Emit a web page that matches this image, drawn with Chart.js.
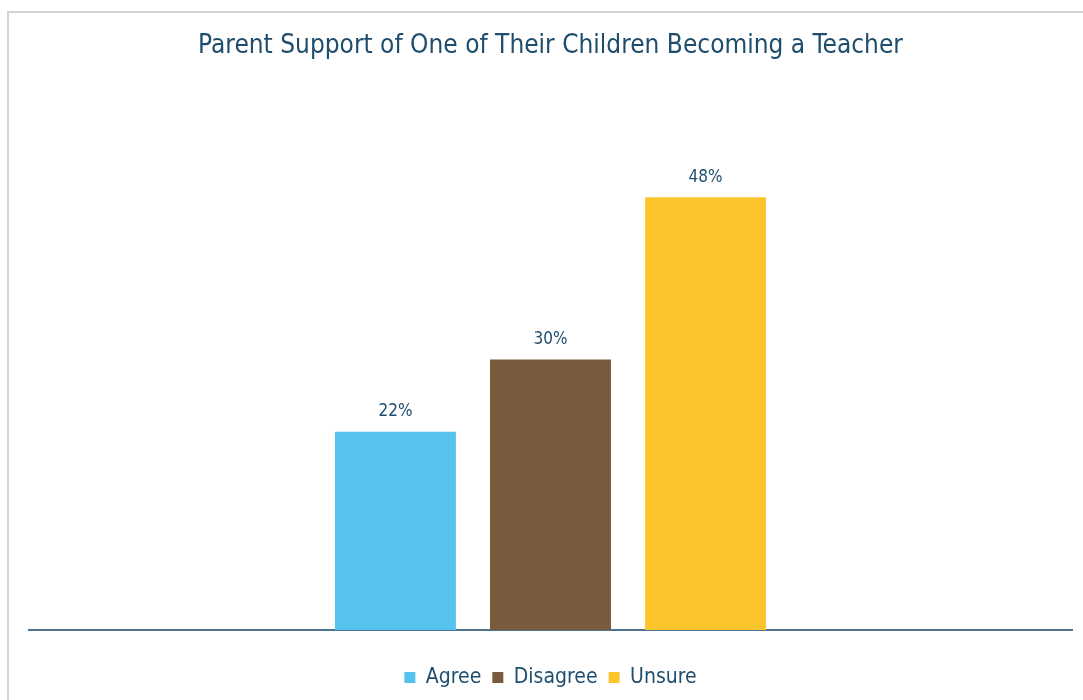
<!DOCTYPE html>
<html>
<head>
<meta charset="utf-8">
<title>Parent Support</title>
<script src="https://cdn.jsdelivr.net/npm/chart.js@4.4.1/dist/chart.umd.min.js"></script>
<style>
  html, body { margin: 0; padding: 0; background: #fff; overflow: hidden; }
  #frame {
    position: absolute; left: 7px; top: 11px; width: 1100px; height: 720px;
    border: 2px solid #d4d4d4; box-sizing: border-box;
  }
  #wrap { position: absolute; left: 0; top: 0; width: 1083px; height: 700px; }
</style>
</head>
<body>
<div id="frame"></div>
<div id="wrap"><canvas id="supportChart" width="1083" height="700"></canvas></div>
<script>
const FONT = "'Liberation Sans Narrow', 'DejaVu Sans Condensed', 'Roboto', sans-serif";
const TEXT = "#1f4d6d";

const title = "Parent Support of One of Their Children Becoming a Teacher";
const categories = [""];
const answers = ["Agree", "Disagree", "Unsure"];
const shares = [22, 30, 48];
const colors = ["#56c3ef", "#7a5a3c", "#fdc52c"];

// write each bar's value just above it
const valueLabels = {
  id: "valueLabels",
  afterDatasetsDraw(chart) {
    const ctx = chart.ctx;
    ctx.save();
    ctx.font = `17px ${FONT}`;
    ctx.fillStyle = TEXT;
    ctx.textAlign = "center";
    ctx.textBaseline = "middle";
    chart.data.datasets.forEach((ds, i) => {
      chart.getDatasetMeta(i).data.forEach((bar, j) => {
        ctx.fillText(`${ds.data[j]}%`, bar.x, bar.y - 20);
      });
    });
    ctx.restore();
  },
};

function renderChart() {
  const datasets = answers.map((label, i) => ({
    label,
    data: [shares[i]],
    backgroundColor: colors[i],
    borderWidth: 0,
    barPercentage: 0.78,
    categoryPercentage: 0.446,
  }));

  const ctx = document.getElementById("supportChart").getContext("2d");
  return new Chart(ctx, {
    type: "bar",
    data: { labels: categories, datasets },
    plugins: [valueLabels],
    options: {
      responsive: false,
      animation: false,
      layout: { padding: { left: 29, right: 11, top: 0, bottom: 2 } },
      scales: {
        x: {
          ticks: { display: false },
          grid: { display: false },
          border: { display: true, color: "#4d7390", width: 2 },
          afterFit(scale) {
            // leave room between the baseline and the legend
            scale.height += 18;
          },
        },
        y: {
          display: false,
          min: 0,
          max: 60,
        },
      },
      plugins: {
        title: {
          display: true,
          text: title,
          color: TEXT,
          font: { family: FONT, size: 26, weight: "normal" },
          padding: { top: 31, bottom: 27 },
        },
        legend: {
          position: "bottom",
          labels: {
            boxWidth: 11,
            boxHeight: 11,
            color: TEXT,
            font: { family: FONT, size: 21 },
            padding: 11,
          },
        },
        tooltip: { enabled: false },
      },
    },
  });
}

renderChart();
</script>
</body>
</html>
